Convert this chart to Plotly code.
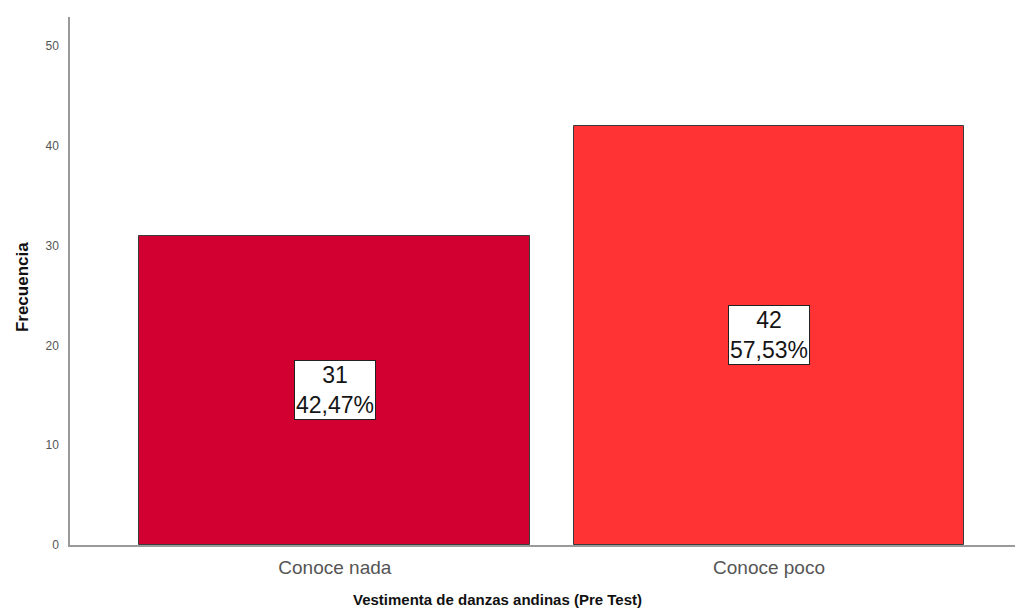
import plotly.graph_objects as go

categories = ["Conoce nada", "Conoce poco"]
frequencies = [31, 42]
percent_labels = ["42,47%", "57,53%"]
bar_colors = ["#D20030", "#FF3333"]
y_ticks = [0, 10, 20, 30, 40, 50]

font = "Liberation Sans, Arial, sans-serif"

fig = go.Figure()
fig.add_trace(go.Bar(
    x=categories,
    y=frequencies,
    width=0.9,
    marker=dict(color=bar_colors, line=dict(color="#3a3a3a", width=1)),
    hoverinfo="skip",
))

for cat, val, pct in zip(categories, frequencies, percent_labels):
    fig.add_annotation(
        x=cat, y=val / 2, xref="x", yref="y",
        text=f"{val}<br>{pct}", showarrow=False,
        font=dict(family=font, size=23, color="#151515"),
        bgcolor="white", bordercolor="#222222", borderwidth=1, borderpad=1,
        align="center",
    )

fig.add_annotation(
    x=-0.049, y=0.489, xref="paper", yref="paper",
    xanchor="center", yanchor="middle",
    text="<b>Frecuencia</b>", textangle=-90, showarrow=False,
    font=dict(family=font, size=17, color="#111111"),
)
fig.add_annotation(
    x=0.449, y=-0.104, xref="paper", yref="paper", xanchor="center", yanchor="middle",
    text="<b>Vestimenta de danzas andinas (Pre Test)</b>", showarrow=False,
    font=dict(family=font, size=15, color="#111111"),
)

fig.update_layout(
    width=1015, height=605,
    margin=dict(l=62, r=0, t=9, b=68, autoexpand=False),
    paper_bgcolor="white", plot_bgcolor="white",
    showlegend=False,
    bargap=0,
    xaxis=dict(
        range=[-0.61, 1.585],
        showline=True, linecolor="#9a9a9a", linewidth=1.5,
        ticks="", showgrid=False, zeroline=False,
        tickfont=dict(family=font, size=19, color="#555555"),
        ticklabelstandoff=4,
        automargin=False,
    ),
    yaxis=dict(
        range=[0, 52.9],
        tickvals=y_ticks,
        showline=True, linecolor="#9a9a9a", linewidth=1.5,
        ticks="", showgrid=False, zeroline=False,
        tickfont=dict(family=font, size=12, color="#555555"),
        ticklabelstandoff=7,
        automargin=False,
    ),
)

fig.write_html("out.html")
